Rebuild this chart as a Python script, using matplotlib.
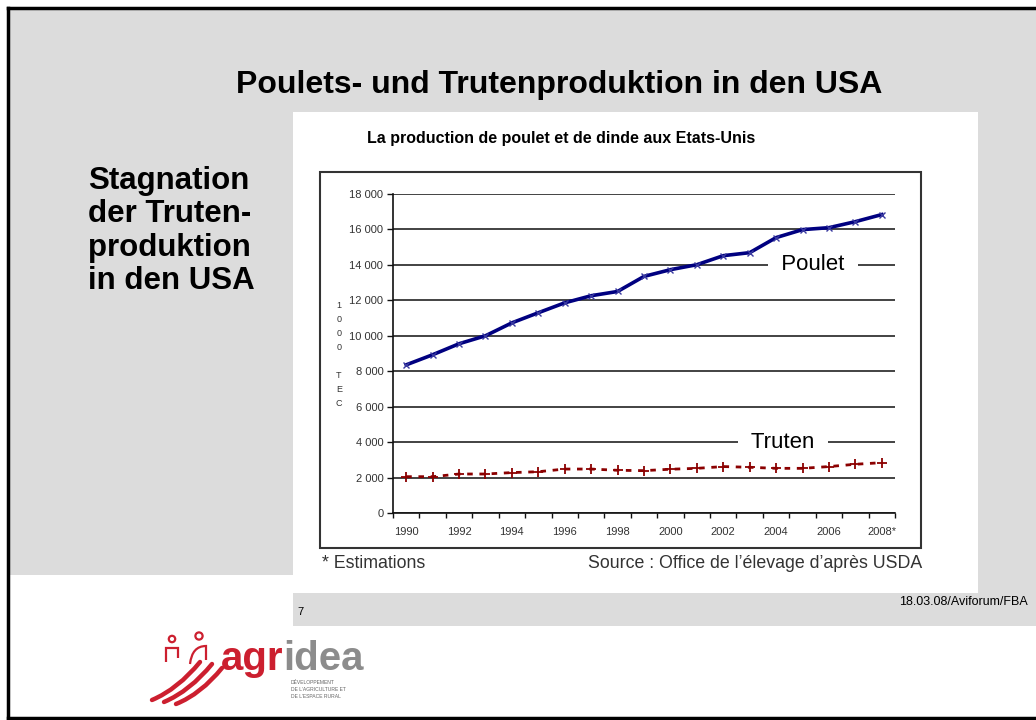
import matplotlib
matplotlib.use('Agg')
import matplotlib.pyplot as plt
from matplotlib.patches import Rectangle, Circle, PathPatch
from matplotlib.path import Path
import numpy as np

# ---------------- data ----------------
years = [str(y) for y in range(1990, 2009)]
tick_labels = ['1990', '1992', '1994', '1996', '1998', '2000', '2002', '2004', '2006', '2008*']
poulet = [8360, 8930, 9550, 10000, 10730, 11300, 11860, 12260, 12500, 13350,
          13730, 14010, 14520, 14690, 15540, 15990, 16100, 16440, 16840]
truten = [2050, 2050, 2200, 2200, 2280, 2330, 2480, 2480, 2410, 2390,
          2470, 2520, 2620, 2580, 2520, 2520, 2620, 2750, 2840]
yticks = [0, 2000, 4000, 6000, 8000, 10000, 12000, 14000, 16000, 18000]
ylabel_chars = ['1', '0', '0', '0', '', 'T', 'E', 'C']

plt.rcParams['font.family'] = ['Liberation Sans', 'DejaVu Sans']

W, H = 1036, 720
fig = plt.figure(figsize=(W / 100, H / 100), dpi=100)
fig.patch.set_facecolor('white')

bg = fig.add_axes([0, 0, 1, 1])
bg.set_xlim(0, W)
bg.set_ylim(H, 0)
bg.axis('off')

GRAY = '#dcdcdc'
# slide background
bg.add_patch(Rectangle((9, 9), W - 9, 575 - 9, fc=GRAY, ec='none', zorder=0))
bg.add_patch(Rectangle((293, 570), W - 293, 56, fc=GRAY, ec='none', zorder=0))
# chart picture (white)
bg.add_patch(Rectangle((293, 112), 685, 481, fc='white', ec='none', zorder=1))
# chart frame
bg.add_patch(Rectangle((320, 172), 601, 376, fc='none', ec='#333333', lw=1.5, zorder=2))
# slide border
bg.plot([8, 8], [8, 718], color='black', lw=2.5, zorder=3, solid_capstyle='projecting')
bg.plot([8, W], [8, 8], color='black', lw=2.5, zorder=3, solid_capstyle='projecting')
bg.plot([8, W], [718, 718], color='black', lw=2.5, zorder=3, solid_capstyle='projecting')

# titles
bg.text(559, 85, 'Poulets- und Trutenproduktion in den USA', ha='center', va='center',
        fontsize=23, fontweight='bold', color='black', zorder=4)
for i, line in enumerate(['Stagnation', 'der Truten-', 'produktion', 'in den USA']):
    bg.text(88, 181 + 33.3 * i, line, ha='left', va='center', fontsize=22.5,
            fontweight='bold', color='black', zorder=4)
bg.text(561, 139, 'La production de poulet et de dinde aux Etats-Unis', ha='center',
        va='center', fontsize=11.5, fontweight='bold', color='black', zorder=4)

# stacked y label
for i, ch in enumerate(ylabel_chars):
    if ch:
        bg.text(339, 305 + 14.1 * i, ch, ha='center', va='center', fontsize=6.5,
                color='#333333', zorder=4)

# footer texts
bg.text(322, 563, '* Estimations', ha='left', va='center', fontsize=12.8, color='#333333', zorder=4)
bg.text(922, 563, 'Source : Office de l\u2019\u00e9levage d\u2019apr\u00e8s USDA', ha='right',
        va='center', fontsize=12.8, color='#333333', zorder=4)
bg.text(297, 612, '7', ha='left', va='center', fontsize=8, color='black', zorder=4)
bg.text(1028, 602, '18.03.08/Aviforum/FBA', ha='right', va='center', fontsize=9,
        color='black', zorder=4)

# logo
RED = '#cc1f2f'
t1 = bg.text(221, 670, 'agr', ha='left', va='baseline', fontsize=29, fontweight='bold',
             color=RED, zorder=4)
bg.annotate('idea', xy=(1, 0), xycoords=t1, ha='left', va='bottom', fontsize=29,
            fontweight='bold', color='#8c8c8c', zorder=4)
for i, line in enumerate(['D\u00c9VELOPPEMENT', 'DE L\u2019AGRICULTURE ET', 'DE L\u2019ESPACE RURAL']):
    bg.text(291, 682 + 7.5 * i, line, ha='left', va='center', fontsize=3.6,
            color='#666666', zorder=4)
# logo icon: swooshes and two figures
for k, (x0, y0, x1, y1) in enumerate([(152, 700, 200, 662), (164, 702, 212, 664), (176, 704, 222, 668)]):
    verts = [(x0, y0), ((x0 + x1) / 2 + 2, (y0 + y1) / 2 + 8), (x1, y1)]
    p = Path(verts, [Path.MOVETO, Path.CURVE3, Path.CURVE3])
    bg.add_patch(PathPatch(p, fc='none', ec=RED, lw=3.2, capstyle='round', zorder=4))
bg.add_patch(Circle((172, 639), 3.2, fc='none', ec=RED, lw=1.6, zorder=4))
bg.add_patch(Circle((199, 636), 3.6, fc='none', ec=RED, lw=1.6, zorder=4))
p = Path([(166, 662), (166, 648), (178, 648), (178, 658)], [Path.MOVETO, Path.LINETO, Path.LINETO, Path.LINETO])
bg.add_patch(PathPatch(p, fc='none', ec=RED, lw=1.6, zorder=4))
p = Path([(190, 664), (192, 646), (206, 646), (206, 660)], [Path.MOVETO, Path.CURVE3, Path.CURVE3, Path.LINETO])
bg.add_patch(PathPatch(p, fc='none', ec=RED, lw=1.6, zorder=4))

# ---------------- chart axes ----------------
ax = fig.add_axes([393 / W, 1 - 513 / H, 502 / W, 319 / H])
ax.set_facecolor('none')
x = np.arange(len(years))
ax.set_xlim(-0.5, len(years) - 0.5)
ax.set_ylim(0, 18000)

for s in ['top', 'right']:
    ax.spines[s].set_visible(False)
for s in ['left', 'bottom']:
    ax.spines[s].set_color('#111111')
    ax.spines[s].set_linewidth(1.2)

ax.set_yticks(yticks)
ax.set_yticklabels([f'{v:,}'.replace(',', ' ') for v in yticks])
ax.yaxis.grid(True, color='#222222', lw=1.2, zorder=1)
ax.set_axisbelow(True)
ax.tick_params(axis='y', length=4, width=1, pad=3, labelsize=8, colors='#111111',
               labelcolor='#333333')

ax.set_xticks(np.arange(-0.5, len(years), 1))
ax.set_xticklabels([])
ax.set_xticks(x[::2], minor=True)
ax.set_xticklabels(tick_labels, minor=True)
ax.tick_params(axis='x', which='major', length=3.5, width=1, colors='#111111')
ax.tick_params(axis='x', which='minor', length=0, pad=10, labelsize=8, labelcolor='#333333')

ax.plot(x, poulet, color='#000080', lw=2.6, marker='x', ms=5, mew=1.0, mec='#3a3aa0',
        zorder=4, clip_on=False)
ax.plot(x, truten, color='#8b0000', lw=2.0, ls=(0, (2.0, 2.4)), marker='+', ms=7, mew=1.3,
        zorder=4, clip_on=False)

tr = ax.get_yaxis_transform()
ax.text(0.837, 14000, '  Poulet  ', transform=tr, ha='center', va='center', fontsize=16,
        color='black', zorder=3, bbox=dict(boxstyle='square,pad=0.05', fc='white', ec='none'))
ax.text(0.777, 4000, '  Truten  ', transform=tr, ha='center', va='center', fontsize=16,
        color='black', zorder=3, bbox=dict(boxstyle='square,pad=0.05', fc='white', ec='none'))

fig.savefig('out.png', dpi=100, facecolor='white')
